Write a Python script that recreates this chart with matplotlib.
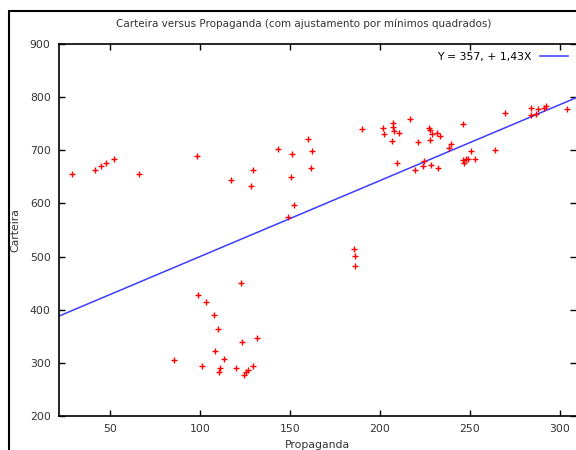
import matplotlib.pyplot as plt
from matplotlib.patches import Rectangle

# data
propaganda = [29.1, 41.8, 44.8, 47.6, 52.4, 66.1, 98.3,
              117.0, 129.6, 128.3, 143.2, 151.1, 160.2, 162.4, 161.7, 150.4, 152.0, 148.9,
              190.2, 201.8, 202.4, 207.1, 207.4, 207.8, 210.6, 206.5, 216.8, 221.3,
              227.5, 227.9, 228.7, 231.5, 233.5, 228.0, 239.4, 238.3, 209.3, 224.4,
              224.1, 228.2, 219.4, 232.4,
              246.1, 269.4, 283.7, 283.7, 287.6, 286.5, 291.1, 292.2, 303.7, 250.7,
              264.0, 246.3, 247.8, 249.1, 246.7, 252.6,
              122.6, 99.1, 103.2, 107.8, 109.8, 123.5, 131.8, 108.3, 85.6, 113.3,
              101.1, 111.3, 110.4, 120.2, 129.4, 126.7, 125.4, 124.6,
              185.7, 185.9, 185.9]
carteira = [656, 663, 670, 677, 684, 655, 689,
            644, 663, 632, 703, 693, 722, 699, 667, 650, 597, 575,
            740, 741, 731, 751, 743, 737, 733, 717, 758, 715,
            741, 738, 730, 733, 726, 719, 711, 705, 676, 679,
            670, 672, 662, 667,
            750, 770, 779, 766, 777, 769, 780, 783, 777, 698,
            700, 681, 683, 684, 677, 684,
            451, 428, 414, 390, 364, 339, 346, 322, 305, 307,
            294, 290, 283, 290, 294, 287, 282, 278,
            515, 501, 482]

intercept = 357.0
slope = 1.43
xlim = (21.7, 308.9)

plt.rcParams['font.family'] = 'DejaVu Sans'
fig = plt.figure(figsize=(5.76, 4.5), dpi=100)
ax = fig.add_axes([59/576, 34/450, 1 - 59/576, 372/450])

ax.plot(propaganda, carteira, linestyle='', marker='+', color='#ff0000',
        markersize=4.8, markeredgewidth=1, zorder=3)
ax.plot(xlim, [intercept + slope*xlim[0], intercept + slope*xlim[1]],
        color='#3c3cff', linewidth=1.1, label='Y = 357, + 1,43X')

ax.set_xlim(xlim)
ax.set_ylim(200, 900)
ax.set_xticks([50, 100, 150, 200, 250, 300])
ax.set_yticks([200, 300, 400, 500, 600, 700, 800, 900])
ax.tick_params(direction='in', length=4, width=1, top=True, right=True,
               labelsize=7.8, labelcolor='#333333', pad=6)
ax.spines['right'].set_visible(False)
for s in ['left', 'bottom', 'top']:
    ax.spines[s].set_linewidth(1.2)

ax.set_xlabel('Propaganda', fontsize=7.8, color='#333333', labelpad=4)
ax.set_ylabel('Carteira', fontsize=7.8, color='#333333', labelpad=7)
fig.text(304/576, 1 - 24/450, 'Carteira versus Propaganda (com ajustamento por mínimos quadrados)',
         ha='center', va='center', fontsize=7.5, color='#333333')

leg = ax.legend(loc='upper right', frameon=False, fontsize=7.8, markerfirst=False,
                handlelength=2.6, borderaxespad=0.3)

# outer border of the picture
fig.patches.append(Rectangle((9/576, -0.1), 1.2, 1 - 11/450 + 0.1,
                             transform=fig.transFigure, fill=False,
                             edgecolor='black', linewidth=1.5))

fig.savefig('out.png', dpi=100)
